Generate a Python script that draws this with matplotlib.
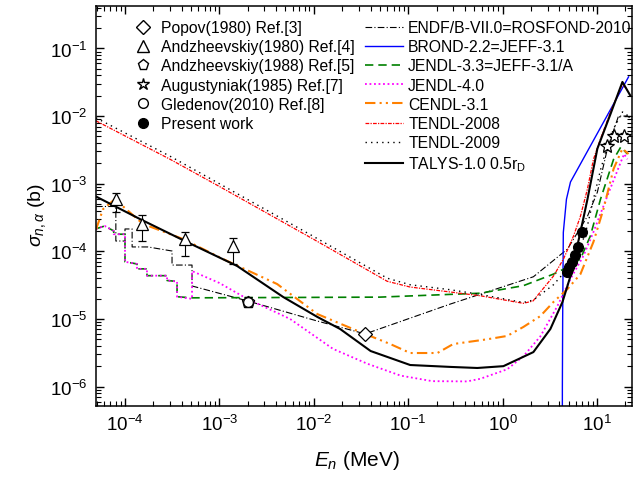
import numpy as np
import matplotlib
matplotlib.use('Agg')
import matplotlib.pyplot as plt
from matplotlib.lines import Line2D
from matplotlib.ticker import LogLocator, NullFormatter

plt.rcParams['font.family'] = ['Liberation Sans', 'DejaVu Sans']
plt.rcParams['mathtext.fontset'] = 'custom'
plt.rcParams['mathtext.rm'] = 'Liberation Sans'
plt.rcParams['mathtext.it'] = 'Liberation Sans:italic'
plt.rcParams['mathtext.bf'] = 'Liberation Sans:bold'

# evaluated data (MeV, b)
# ======================
endf_E = [4.93e-5, 8.0e-5, 8.0e-5, 1.0e-4, 1.0e-4, 1.19e-4, 1.19e-4, 1.75e-4, 3.15e-4,
          3.15e-4, 5.13e-4, 5.13e-4, 2.0e-3, 0.0109, 0.035, 0.28, 2.12,
          4.87, 7.93, 10.1, 12.9, 16.9, 21.0, 23.5]
endf_s = [4.6e-4, 4.6e-4, 1.42e-4, 1.42e-4, 2.14e-4, 2.14e-4, 1.16e-4, 1.16e-4, 1.01e-4,
          6.26e-5, 6.26e-5, 3.07e-5, 1.84e-5, 9.3e-6, 6.0e-6, 1.66e-5, 4.2e-5,
          1.08e-4, 3.3e-4, 7.5e-4, 3.3e-3, 1.0e-2, 1.0e-2, 9.0e-3]

brond_E = [4.28, 4.30, 4.33, 4.40, 4.75, 5.24, 21.6]
brond_s = [1e-9, 1e-6, 1e-5, 1.9e-4, 5.9e-4, 1.06e-3, 3.8e-2]

jendl33_E = [4.93e-5, 6.1e-5, 7.6e-5, 7.6e-5, 1.0e-4, 1.0e-4, 1.34e-4, 1.34e-4, 1.71e-4,
             1.71e-4, 2.79e-4, 2.79e-4, 3.56e-4, 3.56e-4, 5.13e-4, 0.05, 0.58, 1.66,
             3.46, 5.24, 6.68, 8.5, 10.9, 15.0, 17.9, 21.0]
jendl33_s = [2.15e-4, 2.37e-4, 2.0e-4, 1.79e-4, 1.79e-4, 7.0e-5, 6.5e-5, 5.5e-5, 5.5e-5,
             4.36e-5, 4.36e-5, 3.7e-5, 3.58e-5, 2.13e-5, 2.05e-5, 2.1e-5, 2.4e-5, 3.1e-5,
             4.6e-5, 6.1e-5, 7.7e-5, 1.68e-4, 5.9e-4, 2.3e-3, 3.5e-3, 2.75e-3]

jendl40_E = [4.93e-5, 6.1e-5, 7.6e-5, 7.6e-5, 1.0e-4, 1.0e-4, 1.34e-4, 1.34e-4, 1.71e-4,
             1.71e-4, 2.79e-4, 2.79e-4, 3.56e-4, 3.56e-4, 5.13e-4, 5.13e-4, 1.0e-3,
             1.97e-3, 5.6e-3, 0.016, 0.037, 0.083, 0.18, 0.42, 0.58, 1.12, 1.66,
             2.51, 3.8, 5.24, 7.2, 9.18, 12.5, 17.9, 19.4, 21.0]
jendl40_s = [2.15e-4, 2.37e-4, 2.0e-4, 1.79e-4, 1.79e-4, 7.0e-5, 6.5e-5, 5.5e-5, 5.5e-5,
             4.36e-5, 4.36e-5, 3.7e-5, 3.58e-5, 2.13e-5, 1.98e-5, 5.1e-5, 3.4e-5,
             1.98e-5, 1.0e-5, 3.6e-6, 2.17e-6, 1.45e-6, 1.2e-6, 1.19e-6, 1.3e-6, 1.8e-6,
             2.8e-6, 5.5e-6, 1.54e-5, 3.9e-5, 8.6e-5, 1.93e-4, 5.9e-4, 2.1e-3, 2.75e-3, 2.3e-3]

cendl_E = [4.93e-5, 5.85e-5, 7.8e-5, 1.55e-4, 4.12e-4, 1.09e-3, 4.09e-3, 0.0109, 0.031,
           0.0646, 0.105, 0.204, 0.30, 0.69, 1.12, 1.66, 2.51, 3.46, 4.87, 6.68, 9.18,
           11.7, 15.0, 18.6, 21.6]
cendl_s = [2.1e-4, 4.2e-4, 5.9e-4, 2.54e-4, 1.52e-4, 7.7e-5, 3.28e-5, 1.18e-5, 6.4e-6,
           4.25e-6, 3.13e-6, 3.13e-6, 4.25e-6, 5.0e-6, 5.6e-6, 7.6e-6, 1.1e-5, 1.78e-5,
           2.77e-5, 4.6e-5, 1.38e-4, 4.2e-4, 1.66e-3, 3.3e-3, 2.75e-3]

tendl08_E = [4.93e-5, 3.0e-4, 1.0e-3, 1.0e-2, 0.06, 0.105, 0.28, 0.58, 1.66, 2.1, 3.46,
             4.42, 5.64, 6.68, 7.93, 9.18, 10.9, 14.3, 18.6, 21.6]
tendl08_s = [8.5e-3, 2.3e-3, 9.1e-4, 1.5e-4, 3.6e-5, 2.96e-5, 2.5e-5, 2.2e-5, 1.7e-5,
             1.84e-5, 4.3e-5, 7.7e-5, 1.68e-4, 3.3e-4, 8.4e-4, 2.3e-3, 4.6e-3, 1.27e-2,
             3.0e-2, 2.3e-2]

tendl09_E = [4.93e-5, 3.0e-4, 1.0e-3, 1.0e-2, 0.06, 0.105, 0.28, 0.58, 1.66, 2.12, 3.46,
             4.87, 6.68, 7.93, 9.2, 10.9, 12.9, 15.0, 18.6, 21.6]
tendl09_s = [9.4e-3, 2.55e-3, 1.0e-3, 1.65e-4, 4.0e-5, 3.2e-5, 2.7e-5, 2.3e-5, 1.75e-5,
             1.9e-5, 3.2e-5, 5.5e-5, 1.1e-4, 2.4e-4, 6.0e-4, 1.6e-3, 3.6e-3, 6.5e-3,
             1.15e-2, 1.0e-2]

talys_E = [5.05e-5, 1.44e-4, 4.54e-4, 1.54e-3, 4.74e-3, 0.0109, 0.019, 0.04, 0.105,
           0.279, 0.54, 1.02, 2.12, 3.21, 4.31, 5.24, 6.68, 7.93, 10.1, 13.9, 18.6, 22.6]
talys_s = [6.35e-4, 3.0e-4, 1.37e-4, 6.07e-5, 2.11e-5, 1.07e-5, 7.1e-6, 3.35e-6, 2.08e-6,
           1.95e-6, 1.88e-6, 2.0e-6, 3.23e-6, 7.1e-6, 1.78e-5, 4.3e-5, 1.93e-4, 5.9e-4,
           3.3e-3, 1.07e-2, 3.2e-2, 2.0e-2]

# experimental data
# =================
popov_E = [0.035]
popov_s = [6.0e-6]

andz80_E = [8.0e-5, 1.51e-4, 4.3e-4, 1.4e-3]
andz80_s = [5.9e-4, 2.5e-4, 1.52e-4, 1.2e-4]
andz80_lo = [2.1e-4, 1.08e-4, 6.7e-5, 5.5e-5]
andz80_hi = [1.4e-4, 9.0e-5, 4.1e-5, 3.8e-5]

andz88_E = [2.0e-3]
andz88_s = [1.8e-5]

aug_E = [12.9, 15.0, 19.1]
aug_s = [3.6e-3, 5.1e-3, 5.1e-3]
aug_err = [4e-4, 5e-4, 5e-4]

gled_E = [2.0e-3]
gled_s = [1.8e-5]
gled_err = [3.0e-6]

pw_E = [4.87, 5.1, 5.5, 5.92, 6.37, 7.02]
pw_s = [5.0e-5, 5.8e-5, 7.0e-5, 8.8e-5, 1.15e-4, 1.9e-4]
pw_err = [6e-6, 7e-6, 8e-6, 1.0e-5, 1.3e-5, 2.0e-5]

# plotting
# =========
fig = plt.figure(figsize=(6.34, 4.81), dpi=100)
ax = fig.add_axes([96/634, 74/481, 536/634, 400/481])

styles = [
    (endf_E, endf_s, dict(color='k', ls=(0, (6, 2, 1, 2)), lw=0.8), 'ENDF/B-VII.0=ROSFOND-2010'),
    (brond_E, brond_s, dict(color='#0000ff', ls='-', lw=1.0), 'BROND-2.2=JEFF-3.1'),
    (jendl33_E, jendl33_s, dict(color='#008000', ls=(0, (5, 3)), lw=1.2), 'JENDL-3.3=JEFF-3.1/A'),
    (jendl40_E, jendl40_s, dict(color='#ff00ff', ls=(0, (1, 1.5)), lw=1.3), 'JENDL-4.0'),
    (cendl_E, cendl_s, dict(color='#ff8000', ls=(0, (5, 2, 1, 2, 1, 2)), lw=1.5), 'CENDL-3.1'),
    (tendl08_E, tendl08_s, dict(color='#ff0000', ls=(0, (3, 1, 1, 1)), lw=0.9), 'TENDL-2008'),
    (tendl09_E, tendl09_s, dict(color='k', ls=(0, (1, 3)), lw=1.0), 'TENDL-2009'),
    (talys_E, talys_s, dict(color='k', ls='-', lw=1.5), 'TALYS-1.0 0.5r$_\\mathrm{D}$'),
]

line_handles = []
for E, s, kw, lab in styles:
    ax.plot(E, s, **kw)
    line_handles.append(Line2D([], [], label=lab, **kw))

mk = dict(mfc='white', mec='k', ecolor='k', elinewidth=0.8, capsize=3, ls='none', mew=0.9)
ax.plot(popov_E, popov_s, 'D', ms=7, mfc='white', mec='k', mew=0.9)
ax.errorbar(andz80_E, andz80_s, yerr=[andz80_lo, andz80_hi], fmt='^', ms=9, **mk)
ax.plot(andz88_E, andz88_s, 'p', ms=9, mfc='white', mec='k', mew=0.9)
ax.errorbar(gled_E, gled_s, yerr=gled_err, fmt='o', ms=7, **mk)
ax.errorbar(aug_E, aug_s, yerr=aug_err, fmt='*', ms=10, **mk)
ax.errorbar(pw_E, pw_s, yerr=pw_err, fmt='o', ms=7, color='k', ecolor='k',
            elinewidth=0.8, capsize=3, ls='none')

ax.set_xscale('log')
ax.set_yscale('log')
ax.set_xlim(4.93e-5, 23.5)
ax.set_ylim(5.15e-7, 0.425)

ax.xaxis.set_minor_locator(LogLocator(base=10, subs=np.arange(2, 10), numticks=20))
ax.yaxis.set_minor_locator(LogLocator(base=10, subs=np.arange(2, 10), numticks=20))
ax.xaxis.set_minor_formatter(NullFormatter())
ax.yaxis.set_minor_formatter(NullFormatter())
ax.tick_params(which='both', direction='in', top=True, right=True, labelsize=13.5)
ax.tick_params(which='major', length=6, width=1)
ax.tick_params(which='minor', length=3.5, width=0.8)
ax.tick_params(axis='x', pad=6)
ax.tick_params(axis='y', pad=6)
for sp in ax.spines.values():
    sp.set_linewidth(1.1)

ax.set_xlabel(r'$E_n$ (MeV)', fontsize=15)
ax.set_ylabel(r'$\sigma_{n,\alpha}$ (b)', fontsize=14)
ax.xaxis.set_label_coords(0.487, -0.105)
ax.yaxis.set_label_coords(-0.09, 0.48)

exp_handles = [
    Line2D([], [], marker='D', ms=7, mfc='white', mec='k', ls='none', label='Popov(1980) Ref.[3]'),
    Line2D([], [], marker='^', ms=8, mfc='white', mec='k', ls='none', label='Andzheevskiy(1980) Ref.[4]'),
    Line2D([], [], marker='p', ms=8, mfc='white', mec='k', ls='none', label='Andzheevskiy(1988) Ref.[5]'),
    Line2D([], [], marker='*', ms=9, mfc='white', mec='k', ls='none', label='Augustyniak(1985) Ref.[7]'),
    Line2D([], [], marker='o', ms=7, mfc='white', mec='k', ls='none', label='Gledenov(2010) Ref.[8]'),
    Line2D([], [], marker='o', ms=7, mfc='k', mec='k', ls='none', label='Present work'),
]

leg1 = ax.legend(handles=exp_handles, loc='upper left', bbox_to_anchor=(135/634, 1 - 21/481),
                 bbox_transform=fig.transFigure, frameon=False, fontsize=11.3,
                 borderpad=0, borderaxespad=0, handlelength=1.0, handletextpad=0.65,
                 labelspacing=0.27)
ax.add_artist(leg1)
ax.legend(handles=line_handles, loc='upper left', bbox_to_anchor=(365/634, 1 - 21/481),
          bbox_transform=fig.transFigure, frameon=False, fontsize=11.3,
          borderpad=0, borderaxespad=0, handlelength=2.42, handletextpad=0.33,
          labelspacing=0.27)

fig.savefig('out.png', dpi=100)
